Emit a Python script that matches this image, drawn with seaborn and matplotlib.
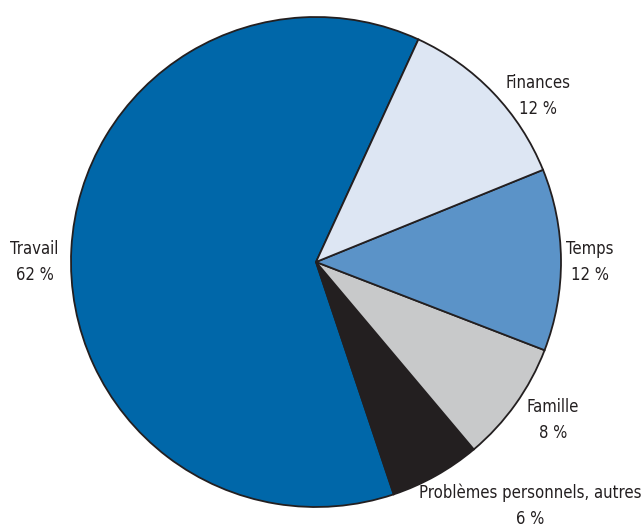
import matplotlib
matplotlib.use("Agg")
import matplotlib.pyplot as plt
from matplotlib import font_manager
import seaborn as sns

# data
categories = ["Travail", "Problèmes personnels, autres", "Famille", "Temps", "Finances"]
shares = [62, 6, 8, 12, 12]
colors = ["#0067a9", "#231f20", "#c8c9ca", "#5b93c8", "#dde6f3"]

# label anchors (data coords, pie radius = 1) and alignment
label_pos = {
    "Travail": (-1.05, 0.0, "right"),
    "Problèmes personnels, autres": (0.875, -0.995, "center"),
    "Famille": (0.967, -0.645, "center"),
    "Temps": (1.118, 0.0, "center"),
    "Finances": (0.906, 0.678, "center"),
}

sns.set_theme(style="white")
plt.rcParams["font.family"] = ["DejaVu Sans"]
fp = font_manager.FontProperties(family="DejaVu Sans", stretch="condensed", size=12)

W, H = 644, 531
fig = plt.figure(figsize=(W / 100, H / 100), dpi=100)
cx, cy, r = 316, 531 - 262, 245
ax = fig.add_axes([(cx - r) / W, (cy - r) / H, 2 * r / W, 2 * r / H])

wedges, _ = ax.pie(
    shares,
    colors=colors,
    startangle=65.3,
    counterclock=True,
    radius=1,
    wedgeprops=dict(edgecolor="#231f20", linewidth=1.3),
)
ax.set_xlim(-1, 1)
ax.set_ylim(-1, 1)
ax.set_axis_off()

for name, val in zip(categories, shares):
    x, y, ha = label_pos[name]
    ax.text(x, y, f"{name}\n{val} %", ha=ha, va="center", multialignment="center",
            fontproperties=fp, color="#231f20", linespacing=1.6, clip_on=False)

fig.savefig("out.png", dpi=100)
